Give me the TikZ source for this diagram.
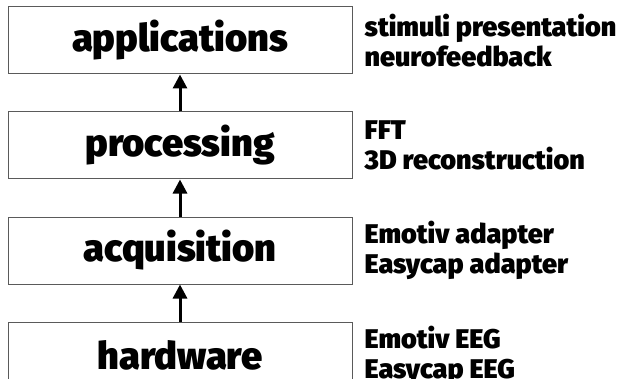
\documentclass[tikz,border=0pt]{standalone}
\usepackage{fontspec}
\newfontfamily\heavyfont{Fira Sans Black}
\usepackage{tikz}
\usetikzlibrary{positioning, arrows.meta}
\definecolor{frame}{RGB}{90,90,90}

\begin{document}
\begin{tikzpicture}[
  x=1pt, y=1pt,
  layer/.style={draw=frame, line width=1pt, minimum width=344pt,
                minimum height=67pt, inner sep=0pt,
                font=\heavyfont\fontsize{38}{42}\selectfont},
  note/.style={anchor=west, inner sep=0pt, align=left,
               font=\heavyfont\fontsize{27}{30}\selectfont},
  up/.style={line width=3pt, -{Triangle[length=14pt, width=14pt]}}]
  \useasboundingbox (0,0) rectangle (617,-379);
  \clip (0,0) rectangle (617,-379);
  \node[layer] (app) at (180,-40.5) {applications};
  \node[layer, below=37pt of app] (proc) {processing};
  \node[layer, below=37pt of proc] (acq) {acquisition};
  \node[layer, below=37pt of acq] (hw) {hardware};
  \node[note, right=12pt of app] (appnote) {stimuli presentation\\neurofeedback};
  \node[note, right=12pt of proc] (procnote) {FFT\\3D reconstruction};
  \node[note, right=12pt of acq] (acqnote) {Emotiv adapter\\Easycap adapter};
  \node[note, right=12pt of hw] (hwnote) {Emotiv EEG\\Easycap EEG};
  \draw[up] (proc) -- (app);
  \draw[up] (acq) -- (proc);
  \draw[up] (hw) -- (acq);
\end{tikzpicture}
\end{document}
